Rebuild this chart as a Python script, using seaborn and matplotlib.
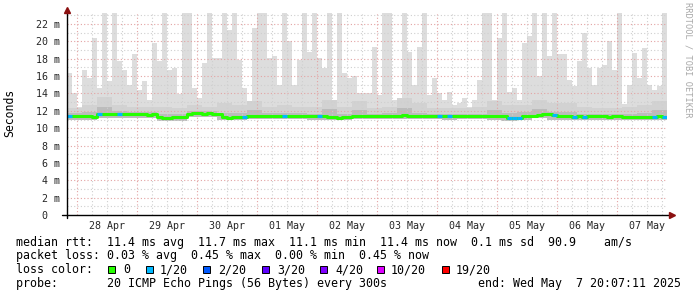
import numpy as np
import matplotlib
matplotlib.use("Agg")
import matplotlib.pyplot as plt
from matplotlib.patches import Rectangle
import seaborn as sns
import pandas as pd

# ---------------- data ----------------
span_hours = 240            # 10-day window ending Wed May 7 20:07:11 2025
first_midnight = 3.8803     # hours after window start (28 Apr 00:00)
column_hours = 2            # each value covers 2 hours
band_hours = 6              # smoke band arrays cover 6 hours each

day_labels = ["28 Apr", "29 Apr", "30 Apr", "01 May", "02 May",
              "03 May", "04 May", "05 May", "06 May", "07 May"]
y_ticks = [0, 2, 4, 6, 8, 10, 12, 14, 16, 18, 20, 22]
y_tick_labels = ["0  ", "2 m", "4 m", "6 m", "8 m", "10 m", "12 m",
                 "14 m", "16 m", "18 m", "20 m", "22 m"]

# max ping rtt (ms) per 2-hour column
rtt_max = [16.4, 14.0, 12.4, 16.7, 15.8, 20.4, 14.6, 24, 15.4, 24,
           17.7, 16.7, 15.0, 18.5, 14.4, 15.4, 13.3, 19.8, 17.7, 24,
           16.7, 16.9, 13.9, 24, 24, 14.6, 13.5, 17.5, 24, 18.1,
           18.1, 24, 21.3, 24, 17.9, 14.6, 12.3, 21.5, 24, 24,
           18.1, 18.3, 15.0, 24, 20.0, 15.0, 17.9, 24, 18.8, 24,
           18.1, 16.9, 24, 12.3, 24, 16.4, 15.8, 16.0, 14.0, 14.0,
           14.0, 19.4, 13.8, 24, 24, 13.3, 12.2, 24, 18.8, 15.0,
           19.4, 24, 13.8, 15.8, 14.0, 13.3, 14.2, 12.7, 12.9, 13.5,
           12.5, 13.3, 15.6, 24, 24, 13.3, 20.4, 24, 14.2, 14.6,
           13.3, 19.8, 20.6, 24, 16.0, 24, 18.3, 24, 18.5, 18.5,
           15.6, 14.9, 17.7, 21.0, 16.9, 15.0, 16.9, 17.3, 20.0, 16.7,
           24, 12.8, 15.0, 18.7, 15.8, 19.2, 15.0, 14.4, 14.9, 24]

# median rtt (ms) per 2-hour column
rtt_median = [11.35, 11.35, 11.4, 11.35, 11.35, 11.3, 11.6, 11.6, 11.65, 11.6,
              11.6, 11.6, 11.65, 11.6, 11.6, 11.6, 11.55, 11.6, 11.25, 11.2,
              11.2, 11.25, 11.25, 11.3, 11.65, 11.7, 11.7, 11.65, 11.7, 11.65,
              11.6, 11.25, 11.2, 11.25, 11.3, 11.3, 11.4, 11.45, 11.4, 11.4,
              11.45, 11.4, 11.4, 11.4, 11.35, 11.4, 11.4, 11.35, 11.4, 11.35,
              11.35, 11.4, 11.25, 11.25, 11.2, 11.25, 11.3, 11.45, 11.45, 11.4,
              11.4, 11.4, 11.4, 11.45, 11.4, 11.4, 11.4, 11.5, 11.4, 11.4,
              11.4, 11.45, 11.4, 11.4, 11.35, 11.4, 11.4, 11.4, 11.4, 11.35,
              11.4, 11.4, 11.4, 11.4, 11.4, 11.35, 11.4, 11.4, 11.15, 11.15,
              11.2, 11.35, 11.35, 11.4, 11.55, 11.6, 11.6, 11.55, 11.4, 11.35,
              11.35, 11.3, 11.35, 11.3, 11.35, 11.35, 11.35, 11.35, 11.3, 11.35,
              11.35, 11.3, 11.3, 11.3, 11.25, 11.3, 11.3, 11.3, 11.35, 11.3]

# lost pings (of 20) per 2-hour column
loss = [1, 0, 0, 0, 0, 0, 1, 0, 0, 0,
        1, 0, 0, 0, 0, 0, 0, 0, 0, 0,
        0, 0, 0, 0, 0, 0, 0, 0, 0, 0,
        0, 0, 0, 0, 0, 1, 0, 0, 0, 0,
        0, 0, 0, 1, 0, 0, 0, 0, 0, 0,
        1, 0, 0, 0, 0, 0, 0, 0, 0, 0,
        0, 0, 0, 0, 0, 0, 0, 0, 0, 0,
        0, 0, 0, 0, 1, 0, 1, 0, 0, 0,
        0, 0, 0, 0, 0, 0, 0, 0, 1, 1,
        1, 0, 0, 0, 0, 0, 0, 1, 0, 0,
        0, 1, 0, 1, 0, 0, 0, 0, 0, 0,
        0, 0, 0, 0, 0, 0, 0, 1, 0, 1]

# smoke bands (ms) per 6-hour block
rtt_p90 = [12.3, 12.7, 13.6, 12.7, 12.5, 12.4, 12.5, 12.3, 12.7, 12.5,
           12.9, 12.7, 13.1, 12.5, 12.7, 12.5, 12.5, 13.3, 12.5, 13.1,
           12.3, 12.5, 13.5, 12.9, 12.3, 12.3, 12.3, 12.5, 13.1, 12.7,
           12.7, 13.3, 12.9, 12.9, 12.5, 12.3, 12.3, 12.5, 12.7, 13.1]
rtt_p75 = [11.75, 11.85, 12.45, 12.0, 11.9, 11.9, 11.6, 11.6, 12.0, 12.0,
           11.8, 11.7, 12.15, 11.7, 11.75, 11.75, 11.65, 12.25, 11.6, 12.15,
           11.65, 11.75, 12.35, 11.75, 11.65, 11.65, 11.65, 11.65, 12.15, 11.75,
           11.85, 12.25, 11.85, 11.85, 11.65, 11.65, 11.6, 11.65, 11.75, 12.15]
rtt_min = [11.0, 11.0, 11.2, 11.2, 11.2, 11.2, 10.85, 10.85, 11.25, 11.25,
           10.9, 10.95, 11.05, 11.05, 11.05, 11.05, 11.0, 10.9, 10.95, 11.05,
           11.05, 11.05, 11.05, 11.05, 11.05, 11.0, 11.05, 11.05, 11.0, 10.8,
           10.9, 11.15, 11.0, 11.0, 11.0, 10.95, 10.95, 10.95, 10.95, 10.95]

loss_levels = [0, 1, 2, 3, 4, 10, 19]
loss_labels = ["0", "1/20", "2/20", "3/20", "4/20", "10/20", "19/20"]
loss_colors = ["#26ff00", "#00b8ff", "#0059ff", "#5e00ff", "#7e00ff", "#dd00ff", "#ff0000"]

stats_line1 = "median rtt:  11.4 ms avg  11.7 ms max  11.1 ms min  11.4 ms now  0.1 ms sd  90.9    am/s"
stats_line2 = "packet loss: 0.03 % avg  0.45 % max  0.00 % min  0.45 % now"
probe_line = "probe:       20 ICMP Echo Pings (56 Bytes) every 300s"
end_line = "end: Wed May  7 20:07:11 2025"

# ---------------- drawing ----------------
sns.set_style("white")
plt.rcParams['font.family'] = ['DejaVu Sans Mono', 'DejaVu Sans']

W, H = 697, 297
fig = plt.figure(figsize=(W / 100, H / 100), dpi=100)
fig.patch.set_facecolor("white")
ax_l, ax_r, ax_b, ax_t = 67, 667, 215, 13.2
ax = fig.add_axes([ax_l / W, 1 - ax_b / H, (ax_r - ax_l) / W, (ax_b - ax_t) / H])
ax.set_facecolor("white")

ncol = len(rtt_max)
t_left = np.arange(ncol) * column_hours
rep = band_hours // column_hours
lo = np.repeat(rtt_min, rep)
p90 = np.repeat(rtt_p90, rep)
p75 = np.repeat(rtt_p75, rep)
hi = np.array(rtt_max)

ax.bar(t_left, hi - lo, bottom=lo, width=column_hours, align="edge",
       color="#dddddd", linewidth=0, zorder=1)
ax.bar(t_left, p90 - lo, bottom=lo, width=column_hours, align="edge",
       color="#d2d2d2", linewidth=0, zorder=1.2)
ax.bar(t_left, p75 - lo, bottom=lo, width=column_hours, align="edge",
       color="#bcbcbc", linewidth=0, zorder=1.4)

# grid
grid_dash = (0, (1, 2))
hours6 = np.arange(first_midnight, span_hours, 6)
for i, h in enumerate(hours6):
    major = (i % 4 == 0)
    ax.axvline(h, color="#e3a3a3" if major else "#cfcfcf", lw=0.8,
               ls=grid_dash, zorder=3)
for v in range(1, 24):
    major = (v % 2 == 0)
    ax.axhline(v, color="#e3a3a3" if major else "#cfcfcf", lw=0.8,
               ls=grid_dash, zorder=3)

# median line colored by loss
df = pd.DataFrame({"t": np.append(t_left, span_hours),
                   "median": np.append(rtt_median, rtt_median[-1])})
sns.lineplot(data=df, x="t", y="median", drawstyle="steps-post",
             color=loss_colors[0], linewidth=2.2, ax=ax, zorder=5)
for k in range(ncol):
    if loss[k] > 0:
        ci = max(i for i, lv in enumerate(loss_levels) if lv <= loss[k])
        ax.hlines(rtt_median[k], t_left[k], t_left[k] + column_hours,
                  color=loss_colors[ci], lw=2.2, zorder=6)

ax.set_xlim(0, span_hours)
ax.set_ylim(0, 23.25)
ax.set_xlabel("")
ax.set_ylabel("")

midnights = first_midnight + 24 * np.arange(len(day_labels))
noons = midnights + 12
ax.set_xticks(midnights)
ax.set_xticklabels([""] * len(midnights))
ax.set_xticks(noons, minor=True)
ax.set_xticklabels(day_labels, minor=True, fontsize=7.2)
ax.tick_params(axis="x", which="major", length=3, width=0.8, color="#d08080", direction="out")
ax.tick_params(axis="x", which="minor", length=0, pad=4.5)
ax.set_yticks(y_ticks)
ax.set_yticklabels(y_tick_labels, fontsize=7.2)
ax.tick_params(axis="y", length=0, pad=5)
for s in ax.spines.values():
    s.set_visible(False)

# axis lines with arrows
axh_px = ax_b - ax_t
axw_px = ax_r - ax_l
ax.plot([0, 0], [-3 / axh_px, 1 + 2 / axh_px], transform=ax.transAxes,
        color="black", lw=1.0, clip_on=False, zorder=7)
ax.plot([-5 / axw_px, 1 + 3 / axw_px], [0, 0], transform=ax.transAxes,
        color="black", lw=1.0, clip_on=False, zorder=7)
ax.plot([0], [1 + 3.5 / axh_px], marker="^", markersize=4.5, color="#8b1010",
        transform=ax.transAxes, clip_on=False, zorder=8)
ax.plot([1 + 5 / axw_px], [0], marker=">", markersize=4.5, color="#8b1010",
        transform=ax.transAxes, clip_on=False, zorder=8)

# y label and watermark
fig.text(10 / W, 1 - 113 / H, "Seconds", rotation=90, ha="center", va="center",
         fontsize=8.3, color="black")
fig.text(688 / W, 1 - 60 / H, "RRDTOOL / TOBI OETIKER", rotation=270,
         ha="center", va="center", fontsize=6.2, color="#a8a8a8")

# legend area
fs = 8.35
def ftext(x, y, s, **kw):
    fig.text(x / W, 1 - y / H, s, ha="left", va="baseline", fontsize=fs,
             color="black", **kw)

ftext(16, 246, stats_line1)
ftext(16, 259.5, stats_line2)
ftext(16, 273.3, "loss color:")
sq_x = [108, 146, 203, 262, 320, 377, 442]
txt_x = [123, 160, 218, 277, 335, 391, 456]
for sx, tx, lab, col in zip(sq_x, txt_x, loss_labels, loss_colors):
    fig.patches.append(Rectangle((sx / W, 1 - 272.5 / H), 7 / W, 7 / H,
                                 transform=fig.transFigure, facecolor=col,
                                 edgecolor="black", linewidth=0.7))
    ftext(tx, 273.3, lab)
ftext(16, 287, probe_line)
ftext(478, 287, end_line)

fig.savefig("out.png", dpi=100, facecolor="white")
